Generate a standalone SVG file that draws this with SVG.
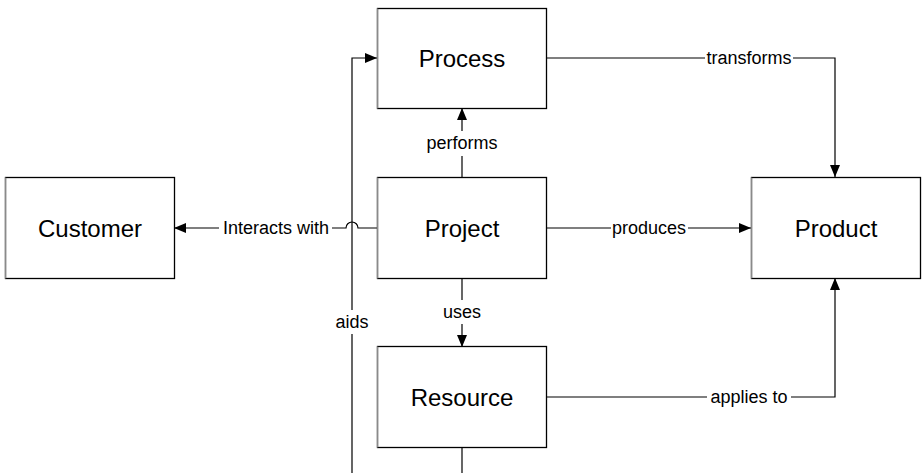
<svg xmlns="http://www.w3.org/2000/svg" width="922" height="473" viewBox="0 0 922 473">
<defs>
<style>
.box{fill:#fff;stroke:#000;stroke-width:1.3}
.shade{stroke:#8a8a8a;stroke-width:1.3}
.bt{font-family:"Liberation Sans",Arial,sans-serif;font-size:24px;fill:#000;text-anchor:middle;dominant-baseline:central}
.lt{font-family:"Liberation Sans",Arial,sans-serif;font-size:18px;fill:#000;text-anchor:middle;dominant-baseline:central}
.ln{fill:none;stroke:#000;stroke-width:1.2}
.bg{fill:#fff}
</style>
<marker id="ah" viewBox="0 0 12 10" refX="12" refY="5" markerWidth="12" markerHeight="10" markerUnits="userSpaceOnUse" orient="auto">
<path d="M0,0 L12,5 L0,10 Z" fill="#000"/>
</marker>
</defs>
<rect width="922" height="473" fill="#fff"/>
<g id="connectors">
<path class="ln" d="M547,58 H835 V177" marker-end="url(#ah)"/>
<path class="ln" d="M462,177 V108" marker-end="url(#ah)"/>
<path class="ln" d="M547,228 H751" marker-end="url(#ah)"/>
<path class="ln" d="M377,228 H358 A6,6 0 0 0 346,228 H174" marker-end="url(#ah)"/>
<path class="ln" d="M462,278 V347" marker-end="url(#ah)"/>
<path class="ln" d="M547,397 H835 V278" marker-end="url(#ah)"/>
<path class="ln" d="M462,447 V473"/>
<path class="ln" d="M352,473 V58 H377" marker-end="url(#ah)"/>
<rect class="bg" x="705" y="48" width="88" height="20"/>
<text class="lt" x="749" y="58">transforms</text>
<rect class="bg" x="424" y="131" width="76" height="25"/>
<text class="lt" x="462" y="143">performs</text>
<rect class="bg" x="611" y="218" width="77" height="20"/>
<text class="lt" x="649" y="228">produces</text>
<rect class="bg" x="219" y="218" width="113" height="20"/>
<text class="lt" x="276" y="228">Interacts with</text>
<rect class="bg" x="441" y="300" width="42" height="24"/>
<text class="lt" x="462" y="312">uses</text>
<rect class="bg" x="707" y="387" width="84" height="20"/>
<text class="lt" x="749" y="397">applies to</text>
<rect class="bg" x="333" y="310" width="38" height="24"/>
<text class="lt" x="352" y="322">aids</text>
</g>
<g id="process">
<rect class="box" x="377.5" y="8.5" width="169" height="100"/>
<line class="shade" x1="377.5" y1="8.5" x2="377.5" y2="108.5"/>
<text class="bt" x="462" y="58">Process</text>
</g>
<g id="customer">
<rect class="box" x="5.5" y="177.5" width="169" height="101"/>
<line class="shade" x1="5.5" y1="177.5" x2="5.5" y2="278.5"/>
<text class="bt" x="90" y="228">Customer</text>
</g>
<g id="project">
<rect class="box" x="377.5" y="177.5" width="169" height="101"/>
<line class="shade" x1="377.5" y1="177.5" x2="377.5" y2="278.5"/>
<text class="bt" x="462" y="228">Project</text>
</g>
<g id="product">
<rect class="box" x="751.5" y="177.5" width="169" height="101"/>
<line class="shade" x1="751.5" y1="177.5" x2="751.5" y2="278.5"/>
<text class="bt" x="836" y="228">Product</text>
</g>
<g id="resource">
<rect class="box" x="377.5" y="346.5" width="169" height="101"/>
<line class="shade" x1="377.5" y1="346.5" x2="377.5" y2="447.5"/>
<text class="bt" x="462" y="397">Resource</text>
</g>
</svg>
